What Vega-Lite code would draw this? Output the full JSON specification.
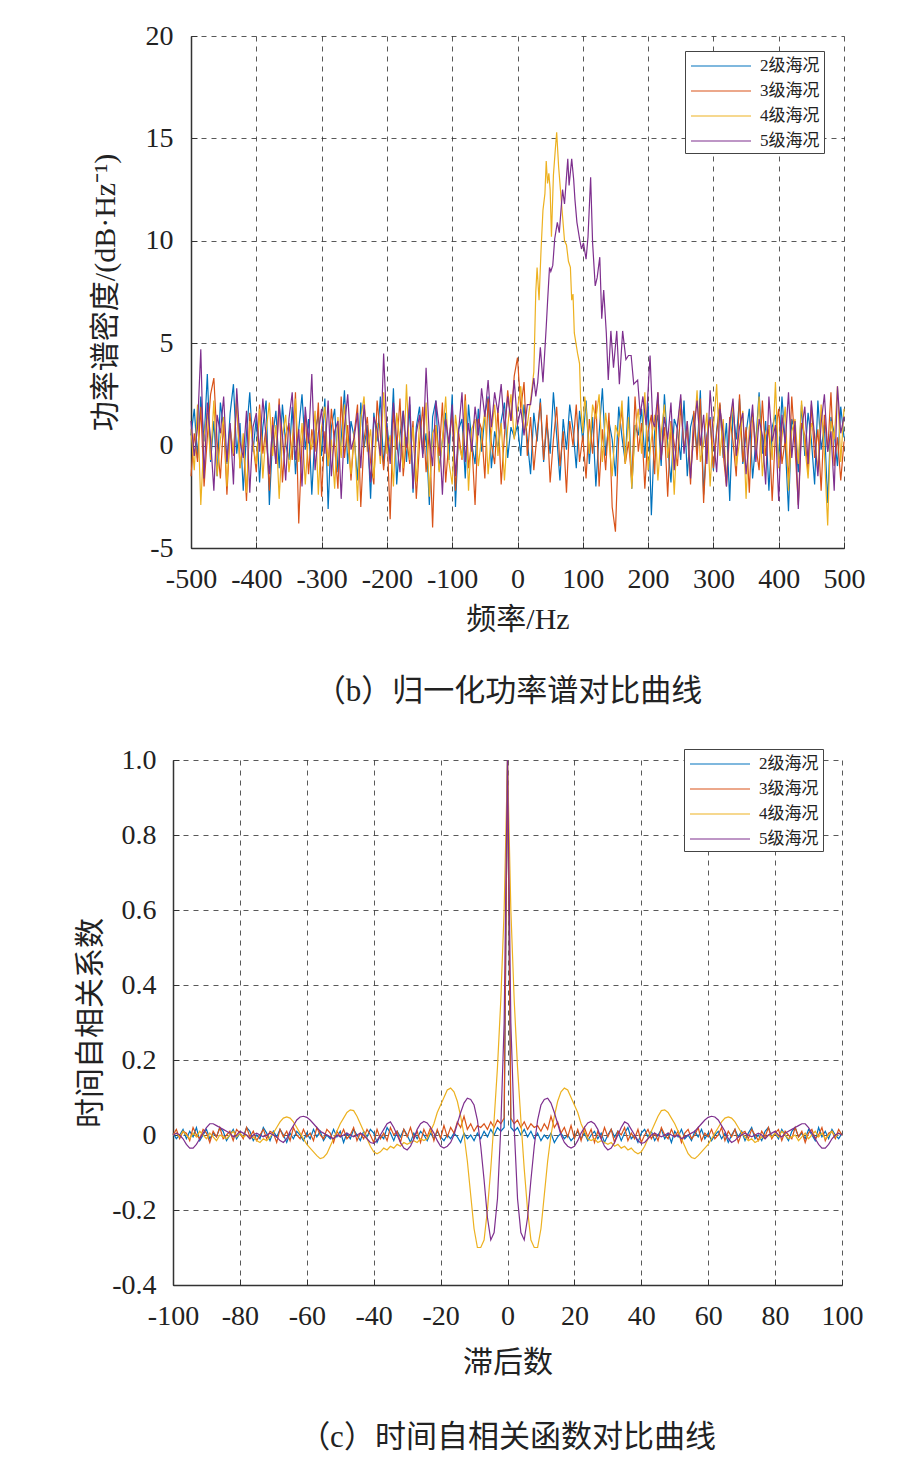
{
"$schema": "https://vega.github.io/schema/vega-lite/v6.json",
"background": "white",
"padding": {"left": 75, "top": 22, "right": 10, "bottom": 10},
"spacing": 39,
"columns": 1,
"config": {
  "view": {"stroke": null},
  "line": {"strokeWidth": 1.2, "clip": true},
  "axis": {
    "labelFont": "Liberation Serif", "labelFontSize": 28, "labelColor": "#222",
    "titleFont": "Liberation Serif, Noto Sans CJK SC", "titleFontSize": 30, "titleFontWeight": "normal", "titleColor": "#222",
    "domainColor": "#333", "domainWidth": 1.5, "tickColor": "#333", "tickSize": -6, "tickWidth": 1,
    "grid": true, "gridColor": "#222", "gridDash": [5, 5], "gridWidth": 1, "gridOpacity": 0.75,
    "labelOverlap": false
  },
  "legend": {
    "title": null, "orient": "none", "strokeColor": "#444", "fillColor": "white", "padding": 4,
    "symbolType": "M-3,0L3,0", "symbolSize": 400, "symbolStrokeWidth": 1.2, "symbolOffset": 21, "labelOffset": 28,
    "labelFont": "Liberation Serif, Noto Sans CJK SC", "labelFontSize": 17, "labelColor": "#222", "rowPadding": 6
  },
  "title": {"font": "Liberation Serif, Noto Sans CJK SC", "fontSize": 31, "fontWeight": "normal", "color": "#222", "orient": "bottom", "anchor": "middle"}
},
"resolve": {"scale": {"x": "independent", "y": "independent", "color": "independent"}, "legend": {"color": "independent"}},
"datasets": {
"p2": [
{"x":-500,"y":0.5},{"x":-495,"y":1.8},{"x":-490,"y":-0.6},{"x":-485,"y":2.4},{"x":-480,"y":0.2},{"x":-475,"y":3.5},{"x":-470,"y":-0.8},{"x":-465,"y":1.2},{"x":-460,"y":-1.5},{"x":-455,"y":2.1},
{"x":-450,"y":0.8},{"x":-445,"y":-0.9},{"x":-440,"y":1.6},{"x":-435,"y":3.0},{"x":-430,"y":-0.4},{"x":-425,"y":1.1},{"x":-420,"y":-2.2},{"x":-415,"y":0.6},{"x":-410,"y":2.6},{"x":-405,"y":-0.3},
{"x":-400,"y":1.4},{"x":-395,"y":-1.8},{"x":-390,"y":0.9},{"x":-385,"y":2.2},{"x":-380,"y":-2.9},{"x":-375,"y":0.4},{"x":-370,"y":1.7},{"x":-365,"y":-1.1},{"x":-360,"y":2.0},{"x":-355,"y":0.1},
{"x":-350,"y":-0.7},{"x":-345,"y":1.9},{"x":-340,"y":-1.4},{"x":-335,"y":0.8},{"x":-330,"y":2.5},{"x":-325,"y":-0.2},{"x":-320,"y":1.3},{"x":-315,"y":-2.4},{"x":-310,"y":0.7},{"x":-305,"y":1.5},
{"x":-300,"y":-0.5},{"x":-295,"y":2.3},{"x":-290,"y":-3.1},{"x":-285,"y":0.9},{"x":-280,"y":1.8},{"x":-275,"y":-1.3},{"x":-270,"y":0.3},{"x":-265,"y":2.7},{"x":-260,"y":-0.9},{"x":-255,"y":1.2},
{"x":-250,"y":0.4},{"x":-245,"y":-1.7},{"x":-240,"y":2.1},{"x":-235,"y":-0.1},{"x":-230,"y":1.0},{"x":-225,"y":-2.6},{"x":-220,"y":1.6},{"x":-215,"y":0.2},{"x":-210,"y":2.4},{"x":-205,"y":-1.0},
{"x":-200,"y":1.1},{"x":-195,"y":-0.6},{"x":-190,"y":2.8},{"x":-185,"y":-1.9},{"x":-180,"y":0.5},{"x":-175,"y":1.7},{"x":-170,"y":-0.8},{"x":-165,"y":2.0},{"x":-160,"y":-2.3},{"x":-155,"y":0.9},
{"x":-150,"y":1.9},{"x":-145,"y":-0.4},{"x":-140,"y":0.6},{"x":-135,"y":-2.9},{"x":-130,"y":1.4},{"x":-125,"y":2.2},{"x":-120,"y":-1.2},{"x":-115,"y":0.3},{"x":-110,"y":1.6},{"x":-105,"y":-0.7},
{"x":-100,"y":2.5},{"x":-95,"y":-3.0},{"x":-90,"y":0.8},{"x":-85,"y":1.3},{"x":-80,"y":-1.6},{"x":-75,"y":2.0},{"x":-70,"y":0.1},{"x":-65,"y":-0.9},{"x":-60,"y":1.8},{"x":-55,"y":-0.3},
{"x":-50,"y":1.5},{"x":-45,"y":2.4},{"x":-40,"y":-1.1},{"x":-35,"y":0.7},{"x":-30,"y":-0.2},{"x":-25,"y":1.2},{"x":-20,"y":2.1},{"x":-15,"y":-0.6},{"x":-10,"y":0.9},{"x":-5,"y":0.4},
{"x":0,"y":1.0},{"x":5,"y":-0.5},{"x":10,"y":2.0},{"x":15,"y":0.3},{"x":20,"y":-1.4},{"x":25,"y":1.6},{"x":30,"y":0.2},{"x":35,"y":2.3},{"x":40,"y":-0.8},{"x":45,"y":1.1},
{"x":50,"y":-0.4},{"x":55,"y":2.6},{"x":60,"y":0.5},{"x":65,"y":-1.7},{"x":70,"y":1.3},{"x":75,"y":-0.2},{"x":80,"y":2.0},{"x":85,"y":0.8},{"x":90,"y":-1.1},{"x":95,"y":1.7},
{"x":100,"y":0.2},{"x":105,"y":2.2},{"x":110,"y":-0.9},{"x":115,"y":1.4},{"x":120,"y":-2.0},{"x":125,"y":0.6},{"x":130,"y":2.8},{"x":135,"y":-0.5},{"x":140,"y":1.2},{"x":145,"y":0.3},
{"x":150,"y":-1.5},{"x":155,"y":1.9},{"x":160,"y":0.4},{"x":165,"y":-0.8},{"x":170,"y":2.4},{"x":175,"y":-2.1},{"x":180,"y":1.0},{"x":185,"y":0.5},{"x":190,"y":1.8},{"x":195,"y":-0.6},
{"x":200,"y":2.1},{"x":205,"y":-3.4},{"x":210,"y":0.7},{"x":215,"y":1.5},{"x":220,"y":-1.0},{"x":225,"y":2.5},{"x":230,"y":0.0},{"x":235,"y":-1.8},{"x":240,"y":1.3},{"x":245,"y":0.8},
{"x":250,"y":-0.7},{"x":255,"y":2.2},{"x":260,"y":-1.5},{"x":265,"y":0.9},{"x":270,"y":1.6},{"x":275,"y":-0.3},{"x":280,"y":2.7},{"x":285,"y":-2.4},{"x":290,"y":0.5},{"x":295,"y":1.4},
{"x":300,"y":-1.2},{"x":305,"y":0.8},{"x":310,"y":2.0},{"x":315,"y":-0.6},{"x":320,"y":1.1},{"x":325,"y":-2.7},{"x":330,"y":1.7},{"x":335,"y":0.3},{"x":340,"y":2.3},{"x":345,"y":-0.9},
{"x":350,"y":0.6},{"x":355,"y":1.8},{"x":360,"y":-1.6},{"x":365,"y":0.2},{"x":370,"y":2.6},{"x":375,"y":-0.4},{"x":380,"y":1.2},{"x":385,"y":-2.2},{"x":390,"y":0.9},{"x":395,"y":1.5},
{"x":400,"y":-0.8},{"x":405,"y":2.4},{"x":410,"y":0.1},{"x":415,"y":-3.2},{"x":420,"y":1.3},{"x":425,"y":0.7},{"x":430,"y":-1.3},{"x":435,"y":2.0},{"x":440,"y":-0.5},{"x":445,"y":1.6},
{"x":450,"y":0.3},{"x":455,"y":-1.9},{"x":460,"y":2.2},{"x":465,"y":-0.2},{"x":470,"y":1.0},{"x":475,"y":-2.8},{"x":480,"y":1.4},{"x":485,"y":0.6},{"x":490,"y":-1.0},{"x":495,"y":1.9},
{"x":500,"y":0.4}
],
"p3": [
{"x":-500,"y":-1.5},{"x":-495,"y":0.6},{"x":-490,"y":-0.8},{"x":-485,"y":1.9},{"x":-480,"y":-2.0},{"x":-475,"y":0.4},{"x":-470,"y":2.5},{"x":-465,"y":3.3},{"x":-460,"y":0.2},{"x":-455,"y":-1.6},
{"x":-450,"y":1.2},{"x":-445,"y":-2.4},{"x":-440,"y":0.8},{"x":-435,"y":-0.5},{"x":-430,"y":2.2},{"x":-425,"y":-1.1},{"x":-420,"y":0.3},{"x":-415,"y":-2.7},{"x":-410,"y":1.6},{"x":-405,"y":0.1},
{"x":-400,"y":-1.3},{"x":-395,"y":2.0},{"x":-390,"y":-0.4},{"x":-385,"y":0.9},{"x":-380,"y":-2.2},{"x":-375,"y":1.4},{"x":-370,"y":-0.9},{"x":-365,"y":2.3},{"x":-360,"y":-1.8},{"x":-355,"y":0.5},
{"x":-350,"y":1.1},{"x":-345,"y":-0.7},{"x":-340,"y":2.6},{"x":-335,"y":-3.8},{"x":-330,"y":0.2},{"x":-325,"y":1.5},{"x":-320,"y":-1.4},{"x":-315,"y":0.8},{"x":-310,"y":-0.3},{"x":-305,"y":2.1},
{"x":-300,"y":-2.5},{"x":-295,"y":0.7},{"x":-290,"y":-1.0},{"x":-285,"y":1.8},{"x":-280,"y":0.0},{"x":-275,"y":-2.1},{"x":-270,"y":2.4},{"x":-265,"y":-0.6},{"x":-260,"y":1.0},{"x":-255,"y":-1.7},
{"x":-250,"y":0.6},{"x":-245,"y":2.0},{"x":-240,"y":-3.0},{"x":-235,"y":0.3},{"x":-230,"y":1.4},{"x":-225,"y":-0.8},{"x":-220,"y":-1.9},{"x":-215,"y":2.2},{"x":-210,"y":0.5},{"x":-205,"y":-1.2},
{"x":-200,"y":0.9},{"x":-195,"y":-3.6},{"x":-190,"y":1.7},{"x":-185,"y":-0.2},{"x":-180,"y":2.3},{"x":-175,"y":-1.5},{"x":-170,"y":0.4},{"x":-165,"y":-0.9},{"x":-160,"y":1.2},{"x":-155,"y":-2.6},
{"x":-150,"y":0.1},{"x":-145,"y":1.9},{"x":-140,"y":-1.3},{"x":-135,"y":0.7},{"x":-130,"y":-4.0},{"x":-125,"y":1.0},{"x":-120,"y":-0.5},{"x":-115,"y":2.1},{"x":-110,"y":-1.8},{"x":-105,"y":0.3},
{"x":-100,"y":1.5},{"x":-95,"y":-2.2},{"x":-90,"y":0.6},{"x":-85,"y":-0.7},{"x":-80,"y":2.5},{"x":-75,"y":-1.1},{"x":-70,"y":0.2},{"x":-65,"y":-2.9},{"x":-60,"y":1.3},{"x":-55,"y":0.8},
{"x":-50,"y":-1.6},{"x":-45,"y":2.3},{"x":-40,"y":0.1},{"x":-35,"y":-0.9},{"x":-30,"y":1.8},{"x":-25,"y":-1.9},{"x":-20,"y":0.5},{"x":-15,"y":2.7},{"x":-10,"y":1.2},{"x":-5,"y":3.4},
{"x":0,"y":4.3},{"x":5,"y":1.8},{"x":10,"y":3.1},{"x":15,"y":-0.5},{"x":20,"y":1.4},{"x":25,"y":-1.2},{"x":30,"y":0.6},{"x":35,"y":2.1},{"x":40,"y":-0.7},{"x":45,"y":1.5},
{"x":50,"y":-1.8},{"x":55,"y":0.3},{"x":60,"y":1.9},{"x":65,"y":-1.0},{"x":70,"y":0.7},{"x":75,"y":-2.3},{"x":80,"y":1.2},{"x":85,"y":0.0},{"x":90,"y":2.0},{"x":95,"y":-0.8},
{"x":100,"y":0.5},{"x":105,"y":-1.6},{"x":110,"y":1.3},{"x":115,"y":-0.4},{"x":120,"y":2.2},{"x":125,"y":-2.0},{"x":130,"y":0.8},{"x":135,"y":-1.2},{"x":140,"y":1.6},{"x":145,"y":-3.0},
{"x":150,"y":-4.2},{"x":155,"y":0.4},{"x":160,"y":1.8},{"x":165,"y":-0.9},{"x":170,"y":0.2},{"x":175,"y":-1.7},{"x":180,"y":2.4},{"x":185,"y":-0.3},{"x":190,"y":1.1},{"x":195,"y":-2.1},
{"x":200,"y":0.7},{"x":205,"y":1.5},{"x":210,"y":-1.4},{"x":215,"y":2.6},{"x":220,"y":-0.6},{"x":225,"y":0.9},{"x":230,"y":-2.5},{"x":235,"y":1.2},{"x":240,"y":0.1},{"x":245,"y":-1.0},
{"x":250,"y":2.0},{"x":255,"y":-0.2},{"x":260,"y":0.8},{"x":265,"y":-1.9},{"x":270,"y":1.7},{"x":275,"y":-0.7},{"x":280,"y":2.3},{"x":285,"y":-2.8},{"x":290,"y":0.4},{"x":295,"y":1.3},
{"x":300,"y":-1.1},{"x":305,"y":0.6},{"x":310,"y":2.1},{"x":315,"y":-0.4},{"x":320,"y":-2.0},{"x":325,"y":1.4},{"x":330,"y":0.2},{"x":335,"y":-1.5},{"x":340,"y":2.5},{"x":345,"y":-0.8},
{"x":350,"y":0.9},{"x":355,"y":-2.3},{"x":360,"y":1.6},{"x":365,"y":0.0},{"x":370,"y":-1.2},{"x":375,"y":2.2},{"x":380,"y":-0.5},{"x":385,"y":1.0},{"x":390,"y":-2.7},{"x":395,"y":0.6},
{"x":400,"y":1.8},{"x":405,"y":-0.9},{"x":410,"y":0.3},{"x":415,"y":-1.6},{"x":420,"y":2.4},{"x":425,"y":-0.1},{"x":430,"y":-2.9},{"x":435,"y":1.1},{"x":440,"y":0.5},{"x":445,"y":-1.3},
{"x":450,"y":2.0},{"x":455,"y":-0.6},{"x":460,"y":0.8},{"x":465,"y":-2.2},{"x":470,"y":1.5},{"x":475,"y":-0.3},{"x":480,"y":2.6},{"x":485,"y":-1.0},{"x":490,"y":0.4},{"x":495,"y":-1.7},
{"x":500,"y":0.2}
],
"p4": [
{"x":-500,"y":0.8},{"x":-495,"y":-1.2},{"x":-490,"y":2.0},{"x":-485,"y":-2.9},{"x":-480,"y":0.5},{"x":-475,"y":1.6},{"x":-470,"y":-0.7},{"x":-465,"y":2.2},{"x":-460,"y":-1.5},{"x":-455,"y":0.3},
{"x":-450,"y":1.4},{"x":-445,"y":-2.0},{"x":-440,"y":0.9},{"x":-435,"y":-0.4},{"x":-430,"y":2.5},{"x":-425,"y":-1.1},{"x":-420,"y":0.6},{"x":-415,"y":-2.3},{"x":-410,"y":1.2},{"x":-405,"y":0.0},
{"x":-400,"y":-0.9},{"x":-395,"y":1.8},{"x":-390,"y":-1.6},{"x":-385,"y":0.7},{"x":-380,"y":2.1},{"x":-375,"y":-0.5},{"x":-370,"y":1.0},{"x":-365,"y":-2.6},{"x":-360,"y":0.4},{"x":-355,"y":1.5},
{"x":-350,"y":-1.3},{"x":-345,"y":0.2},{"x":-340,"y":2.3},{"x":-335,"y":-0.8},{"x":-330,"y":1.1},{"x":-325,"y":-1.9},{"x":-320,"y":0.6},{"x":-315,"y":-0.2},{"x":-310,"y":1.7},{"x":-305,"y":-2.4},
{"x":-300,"y":0.9},{"x":-295,"y":1.9},{"x":-290,"y":-1.0},{"x":-285,"y":0.3},{"x":-280,"y":-2.1},{"x":-275,"y":1.4},{"x":-270,"y":-0.6},{"x":-265,"y":2.0},{"x":-260,"y":0.1},{"x":-255,"y":-1.4},
{"x":-250,"y":0.7},{"x":-245,"y":-2.7},{"x":-240,"y":1.3},{"x":-235,"y":2.4},{"x":-230,"y":-0.3},{"x":-225,"y":0.8},{"x":-220,"y":-1.6},{"x":-215,"y":1.1},{"x":-210,"y":-0.9},{"x":-205,"y":2.6},
{"x":-200,"y":-0.4},{"x":-195,"y":0.5},{"x":-190,"y":-2.0},{"x":-185,"y":1.6},{"x":-180,"y":0.2},{"x":-175,"y":-1.1},{"x":-170,"y":3.0},{"x":-165,"y":-0.7},{"x":-160,"y":0.9},{"x":-155,"y":-1.8},
{"x":-150,"y":1.2},{"x":-145,"y":-0.2},{"x":-140,"y":2.1},{"x":-135,"y":-2.5},{"x":-130,"y":0.6},{"x":-125,"y":1.0},{"x":-120,"y":-1.3},{"x":-115,"y":0.3},{"x":-110,"y":2.4},{"x":-105,"y":-0.8},
{"x":-100,"y":-1.9},{"x":-95,"y":1.5},{"x":-90,"y":0.1},{"x":-85,"y":-0.6},{"x":-80,"y":2.2},{"x":-75,"y":-2.2},{"x":-70,"y":0.8},{"x":-65,"y":1.3},{"x":-60,"y":-1.0},{"x":-55,"y":0.4},
{"x":-50,"y":1.7},{"x":-45,"y":-1.4},{"x":-40,"y":0.6},{"x":-35,"y":2.0},{"x":-30,"y":-0.5},{"x":-25,"y":1.1},{"x":-20,"y":-1.7},{"x":-15,"y":0.9},{"x":-10,"y":2.5},{"x":-5,"y":0.3},
{"x":0,"y":1.8},{"x":5,"y":2.9},{"x":10,"y":0.7},{"x":15,"y":1.0},{"x":20,"y":2.2},{"x":25,"y":3.6},{"x":28,"y":7.5},{"x":30,"y":8.7},{"x":33,"y":7.1},{"x":36,"y":9.5},
{"x":39,"y":11.5},{"x":42,"y":12.3},{"x":44,"y":13.9},{"x":46,"y":12.8},{"x":48,"y":13.3},{"x":50,"y":12.5},{"x":52,"y":10.2},{"x":55,"y":13.2},{"x":58,"y":14.5},{"x":60,"y":15.3},
{"x":63,"y":13.6},{"x":66,"y":12.4},{"x":69,"y":11.2},{"x":72,"y":10.0},{"x":75,"y":9.8},{"x":78,"y":9.0},{"x":81,"y":8.7},{"x":83,"y":7.1},{"x":85,"y":7.4},{"x":87,"y":5.5},
{"x":90,"y":4.9},{"x":92,"y":4.5},{"x":95,"y":4.0},{"x":97,"y":1.9},{"x":100,"y":0.6},{"x":103,"y":2.4},{"x":106,"y":1.5},
{"x":110,"y":-0.4},{"x":115,"y":2.0},{"x":120,"y":1.3},{"x":125,"y":2.5},{"x":130,"y":-0.8},{"x":135,"y":1.6},{"x":140,"y":0.2},{"x":145,"y":-1.5},{"x":150,"y":1.0},{"x":155,"y":0.4},
{"x":160,"y":2.2},{"x":165,"y":-0.9},{"x":170,"y":1.4},{"x":175,"y":-2.1},{"x":180,"y":0.7},{"x":185,"y":1.8},{"x":190,"y":-0.4},{"x":195,"y":2.6},{"x":200,"y":-1.2},{"x":205,"y":0.3},
{"x":210,"y":1.5},{"x":215,"y":-1.7},{"x":220,"y":0.6},{"x":225,"y":2.0},{"x":230,"y":-0.6},{"x":235,"y":1.1},{"x":240,"y":-2.4},{"x":245,"y":0.9},{"x":250,"y":2.3},{"x":255,"y":-0.2},
{"x":260,"y":1.2},{"x":265,"y":-1.3},{"x":270,"y":0.4},{"x":275,"y":2.7},{"x":280,"y":-0.8},{"x":285,"y":0.1},{"x":290,"y":1.6},{"x":295,"y":-2.0},{"x":300,"y":0.8},{"x":305,"y":3.0},
{"x":310,"y":-0.5},{"x":315,"y":1.3},{"x":320,"y":-1.8},{"x":325,"y":0.6},{"x":330,"y":2.1},{"x":335,"y":-1.0},{"x":340,"y":0.2},{"x":345,"y":1.7},{"x":350,"y":-2.6},{"x":355,"y":0.9},
{"x":360,"y":1.4},{"x":365,"y":-0.3},{"x":370,"y":2.4},{"x":375,"y":-1.5},{"x":380,"y":0.5},{"x":385,"y":1.0},{"x":390,"y":-0.7},{"x":395,"y":3.1},{"x":400,"y":-1.1},{"x":405,"y":0.4},
{"x":410,"y":1.9},{"x":415,"y":-2.2},{"x":420,"y":0.7},{"x":425,"y":1.3},{"x":430,"y":-0.9},{"x":435,"y":2.2},{"x":440,"y":0.0},{"x":445,"y":-1.6},{"x":450,"y":1.1},{"x":455,"y":0.6},
{"x":460,"y":-1.3},{"x":465,"y":2.0},{"x":470,"y":-0.4},{"x":475,"y":-3.9},{"x":480,"y":1.2},{"x":485,"y":0.3},{"x":490,"y":2.9},{"x":495,"y":-0.8},{"x":500,"y":1.8}
],
"p5": [
{"x":-500,"y":1.2},{"x":-495,"y":-0.5},{"x":-490,"y":0.9},{"x":-485,"y":4.7},{"x":-480,"y":-1.6},{"x":-475,"y":2.1},{"x":-470,"y":0.3},{"x":-465,"y":-2.2},{"x":-460,"y":1.5},{"x":-455,"y":0.6},
{"x":-450,"y":2.4},{"x":-445,"y":-0.8},{"x":-440,"y":1.1},{"x":-435,"y":-1.9},{"x":-430,"y":2.8},{"x":-425,"y":0.2},{"x":-420,"y":-0.6},{"x":-415,"y":1.7},{"x":-410,"y":-2.3},{"x":-405,"y":0.9},
{"x":-400,"y":1.6},{"x":-395,"y":-0.3},{"x":-390,"y":2.3},{"x":-385,"y":0.4},{"x":-380,"y":-1.4},{"x":-375,"y":1.0},{"x":-370,"y":-0.9},{"x":-365,"y":2.0},{"x":-360,"y":0.5},{"x":-355,"y":-1.7},
{"x":-350,"y":1.3},{"x":-345,"y":2.6},{"x":-340,"y":-0.7},{"x":-335,"y":0.8},{"x":-330,"y":-2.0},{"x":-325,"y":1.9},{"x":-320,"y":0.1},{"x":-315,"y":3.5},{"x":-310,"y":-1.2},{"x":-305,"y":0.6},
{"x":-300,"y":1.8},{"x":-295,"y":-0.4},{"x":-290,"y":2.2},{"x":-285,"y":-1.5},{"x":-280,"y":0.7},{"x":-275,"y":1.2},{"x":-270,"y":-2.6},{"x":-265,"y":0.9},{"x":-260,"y":2.5},{"x":-255,"y":-0.2},
{"x":-250,"y":0.4},{"x":-245,"y":1.6},{"x":-240,"y":-1.1},{"x":-235,"y":2.0},{"x":-230,"y":0.3},{"x":-225,"y":-1.8},{"x":-220,"y":1.4},{"x":-215,"y":0.8},{"x":-210,"y":-0.5},{"x":-205,"y":4.5},
{"x":-200,"y":0.7},{"x":-195,"y":-0.9},{"x":-190,"y":2.1},{"x":-185,"y":0.2},{"x":-180,"y":-1.3},{"x":-175,"y":1.7},{"x":-170,"y":-0.1},{"x":-165,"y":2.4},{"x":-160,"y":-2.1},{"x":-155,"y":0.6},
{"x":-150,"y":1.5},{"x":-145,"y":-0.6},{"x":-140,"y":3.8},{"x":-135,"y":0.4},{"x":-130,"y":-1.0},{"x":-125,"y":2.2},{"x":-120,"y":0.9},{"x":-115,"y":-2.4},{"x":-110,"y":1.3},{"x":-105,"y":0.1},
{"x":-100,"y":2.0},{"x":-95,"y":-1.5},{"x":-90,"y":0.8},{"x":-85,"y":2.6},{"x":-80,"y":-0.8},{"x":-75,"y":1.1},{"x":-70,"y":-0.3},{"x":-65,"y":1.9},{"x":-60,"y":0.5},{"x":-55,"y":2.8},
{"x":-50,"y":1.4},{"x":-45,"y":3.2},{"x":-40,"y":0.9},{"x":-35,"y":2.6},{"x":-30,"y":1.6},{"x":-25,"y":3.0},{"x":-20,"y":0.8},{"x":-15,"y":2.4},{"x":-10,"y":1.2},{"x":-5,"y":3.2},
{"x":0,"y":1.0},{"x":5,"y":1.8},{"x":10,"y":0.5},{"x":15,"y":2.0},{"x":20,"y":2.0},{"x":25,"y":3.3},{"x":28,"y":2.4},{"x":31,"y":3.1},{"x":35,"y":4.8},{"x":39,"y":3.1},
{"x":44,"y":5.8},{"x":46,"y":7.0},{"x":49,"y":8.7},{"x":51,"y":8.5},{"x":54,"y":8.8},{"x":57,"y":10.1},{"x":61,"y":10.9},{"x":64,"y":10.4},{"x":69,"y":12.5},{"x":72,"y":11.8},
{"x":77,"y":14.0},{"x":79,"y":12.7},{"x":83,"y":14.0},{"x":86,"y":13.0},{"x":88,"y":12.0},{"x":91,"y":10.9},{"x":95,"y":10.1},{"x":98,"y":9.6},{"x":101,"y":9.9},{"x":105,"y":9.1},
{"x":108,"y":10.2},{"x":112,"y":13.1},{"x":115,"y":9.9},{"x":119,"y":7.8},{"x":122,"y":8.2},{"x":126,"y":9.2},{"x":129,"y":6.2},{"x":132,"y":7.6},{"x":136,"y":5.5},{"x":139,"y":3.2},
{"x":143,"y":5.6},{"x":147,"y":3.8},{"x":152,"y":5.6},{"x":156,"y":3.0},{"x":161,"y":5.6},{"x":166,"y":4.2},{"x":170,"y":4.4},{"x":174,"y":4.4},{"x":178,"y":3.0},{"x":184,"y":3.2},
{"x":188,"y":1.5},{"x":192,"y":2.4},{"x":197,"y":1.0},{"x":203,"y":4.4},{"x":207,"y":1.2},
{"x":210,"y":0.9},{"x":215,"y":2.6},{"x":220,"y":-0.7},{"x":225,"y":1.4},{"x":230,"y":0.3},{"x":235,"y":2.1},{"x":240,"y":-1.2},{"x":245,"y":1.0},{"x":250,"y":2.5},{"x":255,"y":-0.4},
{"x":260,"y":1.2},{"x":265,"y":-1.6},{"x":270,"y":0.7},{"x":275,"y":2.2},{"x":280,"y":0.0},{"x":285,"y":1.5},{"x":290,"y":-0.9},{"x":295,"y":2.7},{"x":300,"y":0.4},{"x":305,"y":-1.3},
{"x":310,"y":1.8},{"x":315,"y":0.6},{"x":320,"y":-2.0},{"x":325,"y":1.1},{"x":330,"y":2.3},{"x":335,"y":-0.5},{"x":340,"y":0.9},{"x":345,"y":1.6},{"x":350,"y":-1.4},{"x":355,"y":0.3},
{"x":360,"y":2.0},{"x":365,"y":-0.8},{"x":370,"y":1.3},{"x":375,"y":0.5},{"x":380,"y":-1.9},{"x":385,"y":2.4},{"x":390,"y":0.2},{"x":395,"y":1.0},{"x":400,"y":-2.7},{"x":405,"y":1.5},
{"x":410,"y":0.1},{"x":415,"y":2.6},{"x":420,"y":-0.6},{"x":425,"y":1.2},{"x":430,"y":-3.1},{"x":435,"y":0.8},{"x":440,"y":1.9},{"x":445,"y":-0.9},{"x":450,"y":2.2},{"x":455,"y":0.4},
{"x":460,"y":-1.5},{"x":465,"y":1.1},{"x":470,"y":2.5},{"x":475,"y":-0.3},{"x":480,"y":0.7},{"x":485,"y":-2.2},{"x":490,"y":2.9},{"x":495,"y":0.6},{"x":500,"y":1.4}
],
"a2": [
{"x":-100,"y":0.005},{"x":-99,"y":-0.01},{"x":-98,"y":0.0},{"x":-97,"y":0.015},{"x":-96,"y":-0.01},{"x":-95,"y":0.01},{"x":-94,"y":-0.005},{"x":-93,"y":0.02},{"x":-92,"y":-0.015},{"x":-91,"y":0.0},
{"x":-90,"y":0.015},{"x":-89,"y":-0.01},{"x":-88,"y":0.005},{"x":-87,"y":-0.005},{"x":-86,"y":0.02},{"x":-85,"y":0.01},{"x":-84,"y":-0.015},{"x":-83,"y":0.0},{"x":-82,"y":0.015},{"x":-81,"y":-0.01},
{"x":-80,"y":0.005},{"x":-79,"y":-0.005},{"x":-78,"y":0.02},{"x":-77,"y":0.01},{"x":-76,"y":-0.015},{"x":-75,"y":0.0},{"x":-74,"y":-0.01},{"x":-73,"y":0.02},{"x":-72,"y":0.005},{"x":-71,"y":-0.015},
{"x":-70,"y":0.01},{"x":-69,"y":-0.005},{"x":-68,"y":0.015},{"x":-67,"y":0.0},{"x":-66,"y":-0.02},{"x":-65,"y":0.005},{"x":-64,"y":-0.01},{"x":-63,"y":0.01},{"x":-62,"y":0.0},{"x":-61,"y":-0.015},
{"x":-60,"y":0.005},{"x":-59,"y":-0.01},{"x":-58,"y":0.015},{"x":-57,"y":-0.005},{"x":-56,"y":0.01},{"x":-55,"y":-0.015},{"x":-54,"y":0.0},{"x":-53,"y":-0.01},{"x":-52,"y":0.015},{"x":-51,"y":-0.005},
{"x":-50,"y":0.01},{"x":-49,"y":-0.02},{"x":-48,"y":0.005},{"x":-47,"y":-0.01},{"x":-46,"y":0.015},{"x":-45,"y":0.0},{"x":-44,"y":-0.015},{"x":-43,"y":0.01},{"x":-42,"y":-0.005},{"x":-41,"y":0.015},
{"x":-40,"y":0.005},{"x":-39,"y":-0.02},{"x":-38,"y":0.0},{"x":-37,"y":-0.01},{"x":-36,"y":0.02},{"x":-35,"y":0.005},{"x":-34,"y":-0.015},{"x":-33,"y":0.01},{"x":-32,"y":-0.005},{"x":-31,"y":0.015},
{"x":-30,"y":0.0},{"x":-29,"y":-0.02},{"x":-28,"y":0.005},{"x":-27,"y":-0.01},{"x":-26,"y":0.01},{"x":-25,"y":0.0},{"x":-24,"y":-0.015},{"x":-23,"y":0.005},{"x":-22,"y":-0.01},{"x":-21,"y":0.01},
{"x":-20,"y":-0.005},{"x":-19,"y":-0.015},{"x":-18,"y":0.0},{"x":-17,"y":-0.01},{"x":-16,"y":0.005},{"x":-15,"y":-0.005},{"x":-14,"y":-0.02},{"x":-13,"y":0.005},{"x":-12,"y":-0.01},{"x":-11,"y":0.0},
{"x":-10,"y":-0.015},{"x":-9,"y":0.005},{"x":-8,"y":-0.01},{"x":-7,"y":0.01},{"x":-6,"y":-0.005},{"x":-5,"y":0.015},{"x":-4,"y":0.0},{"x":-3,"y":0.02},{"x":-2,"y":0.01},{"x":-1,"y":0.02},
{"x":0,"y":1.0},
{"x":1,"y":0.02},{"x":2,"y":0.01},{"x":3,"y":0.02},{"x":4,"y":0.0},{"x":5,"y":0.015},{"x":6,"y":-0.005},{"x":7,"y":0.01},{"x":8,"y":-0.01},{"x":9,"y":0.005},{"x":10,"y":-0.015},
{"x":11,"y":0.0},{"x":12,"y":-0.01},{"x":13,"y":0.005},{"x":14,"y":-0.02},{"x":15,"y":-0.005},{"x":16,"y":0.005},{"x":17,"y":-0.01},{"x":18,"y":0.0},{"x":19,"y":-0.015},{"x":20,"y":-0.005},
{"x":21,"y":0.01},{"x":22,"y":-0.01},{"x":23,"y":0.005},{"x":24,"y":-0.015},{"x":25,"y":0.0},{"x":26,"y":0.01},{"x":27,"y":-0.01},{"x":28,"y":0.005},{"x":29,"y":-0.02},{"x":30,"y":0.0},
{"x":31,"y":0.015},{"x":32,"y":-0.005},{"x":33,"y":0.01},{"x":34,"y":-0.015},{"x":35,"y":0.005},{"x":36,"y":0.02},{"x":37,"y":-0.01},{"x":38,"y":0.0},{"x":39,"y":-0.02},{"x":40,"y":0.005},
{"x":41,"y":0.015},{"x":42,"y":-0.005},{"x":43,"y":0.01},{"x":44,"y":-0.015},{"x":45,"y":0.0},{"x":46,"y":0.015},{"x":47,"y":-0.01},{"x":48,"y":0.005},{"x":49,"y":-0.02},{"x":50,"y":0.01},
{"x":51,"y":-0.005},{"x":52,"y":0.015},{"x":53,"y":-0.01},{"x":54,"y":0.0},{"x":55,"y":-0.015},{"x":56,"y":0.01},{"x":57,"y":-0.005},{"x":58,"y":0.015},{"x":59,"y":-0.01},{"x":60,"y":0.005},
{"x":61,"y":-0.015},{"x":62,"y":0.0},{"x":63,"y":0.01},{"x":64,"y":-0.01},{"x":65,"y":0.005},{"x":66,"y":-0.02},{"x":67,"y":0.0},{"x":68,"y":0.015},{"x":69,"y":-0.005},{"x":70,"y":0.01},
{"x":71,"y":-0.015},{"x":72,"y":0.005},{"x":73,"y":0.02},{"x":74,"y":-0.01},{"x":75,"y":0.0},{"x":76,"y":-0.015},{"x":77,"y":0.01},{"x":78,"y":0.02},{"x":79,"y":-0.005},{"x":80,"y":0.005},
{"x":81,"y":-0.01},{"x":82,"y":0.015},{"x":83,"y":0.0},{"x":84,"y":-0.015},{"x":85,"y":0.01},{"x":86,"y":0.02},{"x":87,"y":-0.005},{"x":88,"y":0.005},{"x":89,"y":-0.01},{"x":90,"y":0.015},
{"x":91,"y":0.0},{"x":92,"y":-0.015},{"x":93,"y":0.02},{"x":94,"y":-0.005},{"x":95,"y":0.01},{"x":96,"y":-0.01},{"x":97,"y":0.015},{"x":98,"y":0.0},{"x":99,"y":-0.01},{"x":100,"y":0.005}
],
"a3": [
{"x":-100,"y":0.0},{"x":-99,"y":0.015},{"x":-98,"y":-0.01},{"x":-97,"y":0.01},{"x":-96,"y":0.005},{"x":-95,"y":-0.015},{"x":-94,"y":0.02},{"x":-93,"y":0.0},{"x":-92,"y":-0.01},{"x":-91,"y":0.015},
{"x":-90,"y":0.005},{"x":-89,"y":-0.02},{"x":-88,"y":0.01},{"x":-87,"y":-0.005},{"x":-86,"y":0.02},{"x":-85,"y":-0.01},{"x":-84,"y":0.0},{"x":-83,"y":0.01},{"x":-82,"y":-0.015},{"x":-81,"y":0.015},
{"x":-80,"y":0.005},{"x":-79,"y":-0.01},{"x":-78,"y":0.02},{"x":-77,"y":-0.005},{"x":-76,"y":0.01},{"x":-75,"y":-0.015},{"x":-74,"y":0.0},{"x":-73,"y":0.015},{"x":-72,"y":-0.01},{"x":-71,"y":0.01},
{"x":-70,"y":0.005},{"x":-69,"y":-0.02},{"x":-68,"y":0.015},{"x":-67,"y":-0.005},{"x":-66,"y":0.01},{"x":-65,"y":-0.015},{"x":-64,"y":0.02},{"x":-63,"y":0.0},{"x":-62,"y":-0.01},{"x":-61,"y":0.015},
{"x":-60,"y":-0.005},{"x":-59,"y":0.005},{"x":-58,"y":-0.015},{"x":-57,"y":0.02},{"x":-56,"y":0.0},{"x":-55,"y":-0.01},{"x":-54,"y":0.015},{"x":-53,"y":0.005},{"x":-52,"y":-0.02},{"x":-51,"y":0.01},
{"x":-50,"y":-0.005},{"x":-49,"y":0.015},{"x":-48,"y":-0.01},{"x":-47,"y":0.0},{"x":-46,"y":0.02},{"x":-45,"y":-0.015},{"x":-44,"y":0.005},{"x":-43,"y":-0.01},{"x":-42,"y":0.015},{"x":-41,"y":0.0},
{"x":-40,"y":-0.02},{"x":-39,"y":0.015},{"x":-38,"y":-0.01},{"x":-37,"y":0.005},{"x":-36,"y":-0.015},{"x":-35,"y":0.02},{"x":-34,"y":0.0},{"x":-33,"y":0.01},{"x":-32,"y":-0.02},{"x":-31,"y":0.015},
{"x":-30,"y":-0.005},{"x":-29,"y":0.02},{"x":-28,"y":-0.01},{"x":-27,"y":0.01},{"x":-26,"y":-0.02},{"x":-25,"y":0.015},{"x":-24,"y":-0.005},{"x":-23,"y":0.02},{"x":-22,"y":-0.015},{"x":-21,"y":0.015},
{"x":-20,"y":-0.01},{"x":-19,"y":0.025},{"x":-18,"y":-0.005},{"x":-17,"y":0.02},{"x":-16,"y":0.005},{"x":-15,"y":0.035},{"x":-14,"y":0.02},{"x":-13,"y":0.05},{"x":-12,"y":0.015},{"x":-11,"y":0.03},
{"x":-10,"y":0.01},{"x":-9,"y":0.025},{"x":-8,"y":0.02},{"x":-7,"y":0.03},{"x":-6,"y":0.015},{"x":-5,"y":0.035},{"x":-4,"y":0.02},{"x":-3,"y":0.04},{"x":-2,"y":0.03},{"x":-1,"y":0.045},
{"x":0,"y":1.0},
{"x":1,"y":0.045},{"x":2,"y":0.03},{"x":3,"y":0.04},{"x":4,"y":0.02},{"x":5,"y":0.035},{"x":6,"y":0.015},{"x":7,"y":0.03},{"x":8,"y":0.02},{"x":9,"y":0.025},{"x":10,"y":0.01},
{"x":11,"y":0.03},{"x":12,"y":0.015},{"x":13,"y":0.05},{"x":14,"y":0.02},{"x":15,"y":0.035},{"x":16,"y":0.005},{"x":17,"y":0.02},{"x":18,"y":-0.005},{"x":19,"y":0.025},{"x":20,"y":-0.01},
{"x":21,"y":0.015},{"x":22,"y":-0.015},{"x":23,"y":0.02},{"x":24,"y":-0.005},{"x":25,"y":0.015},{"x":26,"y":-0.02},{"x":27,"y":0.01},{"x":28,"y":-0.01},{"x":29,"y":0.02},{"x":30,"y":-0.005},
{"x":31,"y":0.015},{"x":32,"y":-0.02},{"x":33,"y":0.01},{"x":34,"y":0.0},{"x":35,"y":0.02},{"x":36,"y":-0.015},{"x":37,"y":0.005},{"x":38,"y":-0.01},{"x":39,"y":0.015},{"x":40,"y":-0.02},
{"x":41,"y":0.0},{"x":42,"y":0.015},{"x":43,"y":-0.01},{"x":44,"y":0.005},{"x":45,"y":-0.015},{"x":46,"y":0.02},{"x":47,"y":0.0},{"x":48,"y":-0.01},{"x":49,"y":0.015},{"x":50,"y":-0.005},
{"x":51,"y":0.01},{"x":52,"y":-0.02},{"x":53,"y":0.005},{"x":54,"y":0.015},{"x":55,"y":-0.01},{"x":56,"y":0.0},{"x":57,"y":0.02},{"x":58,"y":-0.015},{"x":59,"y":0.005},{"x":60,"y":-0.005},
{"x":61,"y":0.015},{"x":62,"y":-0.01},{"x":63,"y":0.0},{"x":64,"y":0.02},{"x":65,"y":-0.015},{"x":66,"y":0.01},{"x":67,"y":-0.005},{"x":68,"y":0.015},{"x":69,"y":-0.02},{"x":70,"y":0.005},
{"x":71,"y":0.01},{"x":72,"y":-0.01},{"x":73,"y":0.015},{"x":74,"y":0.0},{"x":75,"y":-0.015},{"x":76,"y":0.01},{"x":77,"y":-0.005},{"x":78,"y":0.02},{"x":79,"y":-0.01},{"x":80,"y":0.005},
{"x":81,"y":0.015},{"x":82,"y":-0.015},{"x":83,"y":0.01},{"x":84,"y":0.0},{"x":85,"y":-0.01},{"x":86,"y":0.02},{"x":87,"y":-0.005},{"x":88,"y":0.01},{"x":89,"y":-0.02},{"x":90,"y":0.005},
{"x":91,"y":0.015},{"x":92,"y":-0.01},{"x":93,"y":0.0},{"x":94,"y":0.02},{"x":95,"y":-0.015},{"x":96,"y":0.005},{"x":97,"y":0.01},{"x":98,"y":-0.01},{"x":99,"y":0.015},{"x":100,"y":0.0}
],
"a4": [
{"x":-100,"y":0.0},{"x":-99,"y":0.005},{"x":-98,"y":-0.005},{"x":-97,"y":0.01},{"x":-96,"y":0.0},{"x":-95,"y":-0.01},{"x":-94,"y":0.005},{"x":-93,"y":-0.005},{"x":-92,"y":0.01},{"x":-91,"y":0.0},
{"x":-90,"y":-0.01},{"x":-89,"y":0.005},{"x":-88,"y":-0.005},{"x":-87,"y":-0.015},{"x":-86,"y":0.0},{"x":-85,"y":-0.005},{"x":-84,"y":-0.01},{"x":-83,"y":0.0},{"x":-82,"y":0.01},{"x":-81,"y":-0.005},
{"x":-80,"y":0.005},{"x":-79,"y":-0.005},{"x":-78,"y":0.0},{"x":-77,"y":-0.01},{"x":-76,"y":-0.005},{"x":-75,"y":-0.015},{"x":-74,"y":-0.02},{"x":-73,"y":-0.01},{"x":-72,"y":-0.015},{"x":-71,"y":-0.005},
{"x":-70,"y":0.005},{"x":-69,"y":0.02},{"x":-68,"y":0.035},{"x":-67,"y":0.045},{"x":-66,"y":0.048},{"x":-65,"y":0.045},{"x":-64,"y":0.035},{"x":-63,"y":0.02},{"x":-62,"y":0.005},{"x":-61,"y":-0.01},
{"x":-60,"y":-0.025},{"x":-59,"y":-0.035},{"x":-58,"y":-0.045},{"x":-57,"y":-0.055},{"x":-56,"y":-0.063},{"x":-55,"y":-0.06},{"x":-54,"y":-0.05},{"x":-53,"y":-0.03},{"x":-52,"y":-0.01},{"x":-51,"y":0.01},
{"x":-50,"y":0.03},{"x":-49,"y":0.045},{"x":-48,"y":0.06},{"x":-47,"y":0.067},{"x":-46,"y":0.065},{"x":-45,"y":0.05},{"x":-44,"y":0.03},{"x":-43,"y":0.01},{"x":-42,"y":-0.01},{"x":-41,"y":-0.03},
{"x":-40,"y":-0.045},{"x":-39,"y":-0.05},{"x":-38,"y":-0.045},{"x":-37,"y":-0.035},{"x":-36,"y":-0.04},{"x":-35,"y":-0.03},{"x":-34,"y":-0.035},{"x":-33,"y":-0.025},{"x":-32,"y":-0.03},{"x":-31,"y":-0.02},
{"x":-30,"y":-0.025},{"x":-29,"y":-0.02},{"x":-28,"y":-0.015},{"x":-27,"y":-0.02},{"x":-26,"y":-0.01},{"x":-25,"y":-0.015},{"x":-24,"y":-0.01},{"x":-23,"y":0.01},{"x":-22,"y":0.03},{"x":-21,"y":0.06},
{"x":-20,"y":0.08},{"x":-19,"y":0.1},{"x":-18,"y":0.12},{"x":-17,"y":0.125},{"x":-16,"y":0.115},{"x":-15,"y":0.09},{"x":-14,"y":0.05},{"x":-13,"y":0.0},{"x":-12,"y":-0.07},{"x":-11,"y":-0.16},
{"x":-10,"y":-0.25},{"x":-9,"y":-0.3},{"x":-8,"y":-0.3},{"x":-7,"y":-0.28},{"x":-6,"y":-0.2},{"x":-5,"y":-0.09},{"x":-4,"y":0.04},{"x":-3,"y":0.18},{"x":-2,"y":0.36},{"x":-1,"y":0.6},
{"x":0,"y":1.0},
{"x":1,"y":0.6},{"x":2,"y":0.36},{"x":3,"y":0.18},{"x":4,"y":0.04},{"x":5,"y":-0.09},{"x":6,"y":-0.2},{"x":7,"y":-0.28},{"x":8,"y":-0.3},{"x":9,"y":-0.3},{"x":10,"y":-0.25},
{"x":11,"y":-0.16},{"x":12,"y":-0.07},{"x":13,"y":0.0},{"x":14,"y":0.05},{"x":15,"y":0.09},{"x":16,"y":0.115},{"x":17,"y":0.125},{"x":18,"y":0.12},{"x":19,"y":0.1},{"x":20,"y":0.08},
{"x":21,"y":0.06},{"x":22,"y":0.03},{"x":23,"y":0.01},{"x":24,"y":-0.01},{"x":25,"y":-0.015},{"x":26,"y":-0.01},{"x":27,"y":-0.02},{"x":28,"y":-0.015},{"x":29,"y":-0.02},{"x":30,"y":-0.025},
{"x":31,"y":-0.02},{"x":32,"y":-0.03},{"x":33,"y":-0.025},{"x":34,"y":-0.035},{"x":35,"y":-0.03},{"x":36,"y":-0.04},{"x":37,"y":-0.035},{"x":38,"y":-0.045},{"x":39,"y":-0.05},{"x":40,"y":-0.045},
{"x":41,"y":-0.03},{"x":42,"y":-0.01},{"x":43,"y":0.01},{"x":44,"y":0.03},{"x":45,"y":0.05},{"x":46,"y":0.065},{"x":47,"y":0.067},{"x":48,"y":0.06},{"x":49,"y":0.045},{"x":50,"y":0.03},
{"x":51,"y":0.01},{"x":52,"y":-0.01},{"x":53,"y":-0.03},{"x":54,"y":-0.05},{"x":55,"y":-0.06},{"x":56,"y":-0.063},{"x":57,"y":-0.055},{"x":58,"y":-0.045},{"x":59,"y":-0.035},{"x":60,"y":-0.025},
{"x":61,"y":-0.01},{"x":62,"y":0.005},{"x":63,"y":0.02},{"x":64,"y":0.035},{"x":65,"y":0.045},{"x":66,"y":0.048},{"x":67,"y":0.045},{"x":68,"y":0.035},{"x":69,"y":0.02},{"x":70,"y":0.005},
{"x":71,"y":-0.005},{"x":72,"y":-0.015},{"x":73,"y":-0.01},{"x":74,"y":-0.02},{"x":75,"y":-0.015},{"x":76,"y":-0.005},{"x":77,"y":-0.01},{"x":78,"y":0.0},{"x":79,"y":-0.005},{"x":80,"y":0.005},
{"x":81,"y":-0.005},{"x":82,"y":0.01},{"x":83,"y":0.0},{"x":84,"y":-0.01},{"x":85,"y":-0.005},{"x":86,"y":0.0},{"x":87,"y":-0.015},{"x":88,"y":-0.005},{"x":89,"y":0.005},{"x":90,"y":-0.01},
{"x":91,"y":0.0},{"x":92,"y":0.01},{"x":93,"y":-0.005},{"x":94,"y":0.005},{"x":95,"y":-0.01},{"x":96,"y":0.0},{"x":97,"y":0.01},{"x":98,"y":-0.005},{"x":99,"y":0.005},{"x":100,"y":0.0}
],
"a5": [
{"x":-100,"y":0.0},{"x":-99,"y":0.005},{"x":-98,"y":0.0},{"x":-97,"y":-0.01},{"x":-96,"y":-0.025},{"x":-95,"y":-0.035},{"x":-94,"y":-0.035},{"x":-93,"y":-0.025},{"x":-92,"y":-0.01},{"x":-91,"y":0.005},
{"x":-90,"y":0.02},{"x":-89,"y":0.03},{"x":-88,"y":0.03},{"x":-87,"y":0.025},{"x":-86,"y":0.02},{"x":-85,"y":0.015},{"x":-84,"y":0.01},{"x":-83,"y":0.005},{"x":-82,"y":-0.005},{"x":-81,"y":0.0},
{"x":-80,"y":0.01},{"x":-79,"y":0.005},{"x":-78,"y":0.0},{"x":-77,"y":-0.01},{"x":-76,"y":0.0},{"x":-75,"y":0.005},{"x":-74,"y":0.0},{"x":-73,"y":-0.005},{"x":-72,"y":0.0},{"x":-71,"y":0.005},
{"x":-70,"y":0.0},{"x":-69,"y":-0.005},{"x":-68,"y":-0.015},{"x":-67,"y":-0.02},{"x":-66,"y":-0.01},{"x":-65,"y":0.01},{"x":-64,"y":0.025},{"x":-63,"y":0.04},{"x":-62,"y":0.048},{"x":-61,"y":0.05},
{"x":-60,"y":0.047},{"x":-59,"y":0.04},{"x":-58,"y":0.03},{"x":-57,"y":0.02},{"x":-56,"y":0.01},{"x":-55,"y":0.005},{"x":-54,"y":0.0},{"x":-53,"y":-0.005},{"x":-52,"y":-0.01},{"x":-51,"y":0.0},
{"x":-50,"y":-0.005},{"x":-49,"y":0.0},{"x":-48,"y":0.005},{"x":-47,"y":0.0},{"x":-46,"y":-0.005},{"x":-45,"y":0.0},{"x":-44,"y":0.005},{"x":-43,"y":0.0},{"x":-42,"y":-0.01},{"x":-41,"y":-0.02},
{"x":-40,"y":-0.022},{"x":-39,"y":-0.015},{"x":-38,"y":0.0},{"x":-37,"y":0.015},{"x":-36,"y":0.03},{"x":-35,"y":0.035},{"x":-34,"y":0.02},{"x":-33,"y":0.0},{"x":-32,"y":-0.02},{"x":-31,"y":-0.035},
{"x":-30,"y":-0.04},{"x":-29,"y":-0.03},{"x":-28,"y":-0.01},{"x":-27,"y":0.015},{"x":-26,"y":0.03},{"x":-25,"y":0.036},{"x":-24,"y":0.032},{"x":-23,"y":0.02},{"x":-22,"y":0.005},{"x":-21,"y":-0.015},
{"x":-20,"y":-0.03},{"x":-19,"y":-0.035},{"x":-18,"y":-0.03},{"x":-17,"y":-0.02},{"x":-16,"y":0.0},{"x":-15,"y":0.03},{"x":-14,"y":0.06},{"x":-13,"y":0.085},{"x":-12,"y":0.098},{"x":-11,"y":0.095},
{"x":-10,"y":0.08},{"x":-9,"y":0.04},{"x":-8,"y":-0.03},{"x":-7,"y":-0.12},{"x":-6,"y":-0.22},{"x":-5,"y":-0.28},{"x":-4,"y":-0.26},{"x":-3,"y":-0.17},{"x":-2,"y":0.02},{"x":-1,"y":0.3},
{"x":0,"y":1.0},
{"x":1,"y":0.3},{"x":2,"y":0.02},{"x":3,"y":-0.17},{"x":4,"y":-0.26},{"x":5,"y":-0.28},{"x":6,"y":-0.22},{"x":7,"y":-0.12},{"x":8,"y":-0.03},{"x":9,"y":0.04},{"x":10,"y":0.08},
{"x":11,"y":0.095},{"x":12,"y":0.098},{"x":13,"y":0.085},{"x":14,"y":0.06},{"x":15,"y":0.03},{"x":16,"y":0.0},{"x":17,"y":-0.02},{"x":18,"y":-0.03},{"x":19,"y":-0.035},{"x":20,"y":-0.03},
{"x":21,"y":-0.015},{"x":22,"y":0.005},{"x":23,"y":0.02},{"x":24,"y":0.032},{"x":25,"y":0.036},{"x":26,"y":0.03},{"x":27,"y":0.015},{"x":28,"y":-0.01},{"x":29,"y":-0.03},{"x":30,"y":-0.04},
{"x":31,"y":-0.035},{"x":32,"y":-0.02},{"x":33,"y":0.0},{"x":34,"y":0.02},{"x":35,"y":0.035},{"x":36,"y":0.03},{"x":37,"y":0.015},{"x":38,"y":0.0},{"x":39,"y":-0.015},{"x":40,"y":-0.022},
{"x":41,"y":-0.02},{"x":42,"y":-0.01},{"x":43,"y":0.0},{"x":44,"y":0.005},{"x":45,"y":0.0},{"x":46,"y":-0.005},{"x":47,"y":0.0},{"x":48,"y":0.005},{"x":49,"y":0.0},{"x":50,"y":-0.005},
{"x":51,"y":0.0},{"x":52,"y":-0.01},{"x":53,"y":-0.005},{"x":54,"y":0.0},{"x":55,"y":0.005},{"x":56,"y":0.01},{"x":57,"y":0.02},{"x":58,"y":0.03},{"x":59,"y":0.04},{"x":60,"y":0.047},
{"x":61,"y":0.05},{"x":62,"y":0.048},{"x":63,"y":0.04},{"x":64,"y":0.025},{"x":65,"y":0.01},{"x":66,"y":-0.01},{"x":67,"y":-0.02},{"x":68,"y":-0.015},{"x":69,"y":-0.005},{"x":70,"y":0.0},
{"x":71,"y":0.005},{"x":72,"y":0.0},{"x":73,"y":-0.005},{"x":74,"y":0.0},{"x":75,"y":0.005},{"x":76,"y":0.0},{"x":77,"y":-0.01},{"x":78,"y":0.0},{"x":79,"y":0.005},{"x":80,"y":0.01},
{"x":81,"y":0.0},{"x":82,"y":-0.005},{"x":83,"y":0.005},{"x":84,"y":0.01},{"x":85,"y":0.015},{"x":86,"y":0.02},{"x":87,"y":0.025},{"x":88,"y":0.03},{"x":89,"y":0.03},{"x":90,"y":0.02},
{"x":91,"y":0.005},{"x":92,"y":-0.01},{"x":93,"y":-0.025},{"x":94,"y":-0.035},{"x":95,"y":-0.035},{"x":96,"y":-0.025},{"x":97,"y":-0.01},{"x":98,"y":0.0},{"x":99,"y":0.005},{"x":100,"y":0.0}
]
},
"concat": [
{
  "width": 671, "height": 512,
  "title": {"text": "（b）归一化功率谱对比曲线", "offset": 43},
  "encoding": {
    "x": {"field": "x", "type": "quantitative", "scale": {"domain": [-500, 500], "range": [18, 671], "nice": false},
          "axis": {"title": "频率/Hz", "values": [-500,-400,-300,-200,-100,0,100,200,300,400,500], "labelExpr": "'' + datum.value", "labelFlush": false, "labelPadding": 23, "titlePadding": 11}},
    "y": {"field": "y", "type": "quantitative", "scale": {"domain": [-5, 20], "nice": false, "zero": false},
          "axis": {"title": "功率谱密度/(dB·Hz⁻¹)", "values": [-5,0,5,10,15,20], "labelExpr": "'' + datum.value", "labelPadding": 24, "titlePadding": 25, "offset": -18}}
  },
  "layer": [
    {"data": {"name": "p2"}, "mark": "line", "encoding": {"color": {"datum": "2级海况", "scale": {"domain": ["2级海况","3级海况","4级海况","5级海况"], "range": ["#0072BD","#D95319","#EDB120","#7E2F8E"]}, "legend": {"legendX": 512, "legendY": 15}}}},
    {"data": {"name": "p3"}, "mark": "line", "encoding": {"color": {"datum": "3级海况"}}},
    {"data": {"name": "p4"}, "mark": "line", "encoding": {"color": {"datum": "4级海况"}}},
    {"data": {"name": "p5"}, "mark": "line", "encoding": {"color": {"datum": "5级海况"}}}
  ]
},
{
  "width": 669, "height": 525,
  "title": {"text": "（c）时间自相关函数对比曲线", "offset": 46},
  "encoding": {
    "x": {"field": "x", "type": "quantitative", "scale": {"domain": [-100, 100], "nice": false},
          "axis": {"title": "滞后数", "values": [-100,-80,-60,-40,-20,0,20,40,60,80,100], "labelExpr": "'' + datum.value", "labelFlush": false, "labelPadding": 23, "titlePadding": 17}},
    "y": {"field": "y", "type": "quantitative", "scale": {"domain": [-0.4, 1.0], "nice": false, "zero": false},
          "axis": {"title": "时间自相关系数", "values": [-0.4,-0.2,0,0.2,0.4,0.6,0.8,1.0], "labelExpr": "datum.value == 0 ? '0' : replace(format(datum.value, '.1f'), '−', '-')", "labelPadding": 23, "titlePadding": 6}}
  },
  "layer": [
    {"data": {"name": "a2"}, "mark": "line", "encoding": {"color": {"datum": "2级海况", "scale": {"domain": ["2级海况","3级海况","4级海况","5级海况"], "range": ["#0072BD","#D95319","#EDB120","#7E2F8E"]}, "legend": {"legendX": 511, "legendY": -11}}}},
    {"data": {"name": "a3"}, "mark": "line", "encoding": {"color": {"datum": "3级海况"}}},
    {"data": {"name": "a4"}, "mark": "line", "encoding": {"color": {"datum": "4级海况"}}},
    {"data": {"name": "a5"}, "mark": "line", "encoding": {"color": {"datum": "5级海况"}}}
  ]
}
]
}
